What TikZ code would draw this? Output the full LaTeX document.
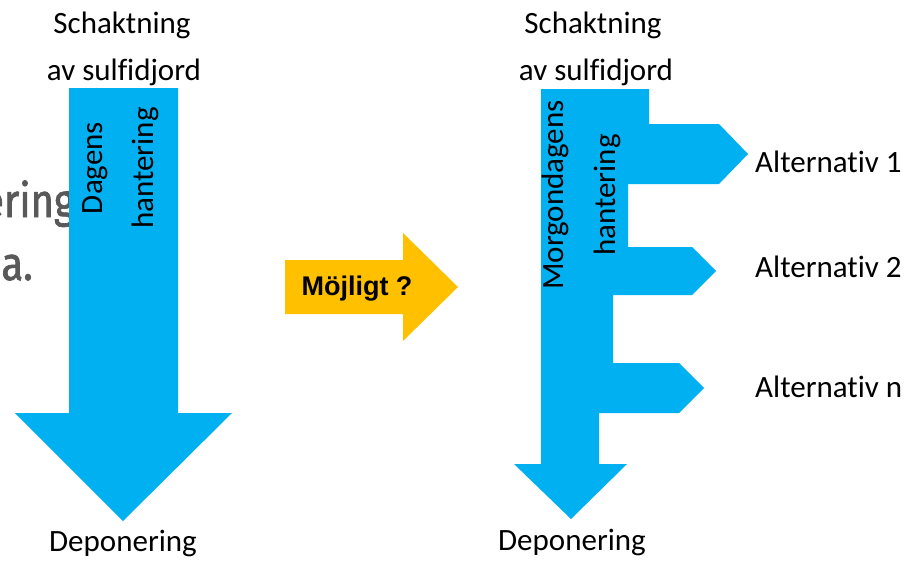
\documentclass[tikz,border=0pt]{standalone}
\usepackage{fontspec}
\setmainfont{Carlito}[Ligatures=NoCommon]
\newfontfamily\boldarial{Liberation Sans}
\newfontfamily\titlefont[FakeStretch=0.85,FakeBold=1.5]{Fira Sans}
\definecolor{arrowblue}{HTML}{00B0F0}
\definecolor{arrowgold}{HTML}{FFC000}
\definecolor{titlegrey}{HTML}{595959}
\tikzset{
  lbl/.style={inner sep=0pt, font=\fontsize{31}{37}\selectfont},
  vlbl/.style={lbl, rotate=90},
  bluearrow/.style={fill=arrowblue, draw=none},
  goldarrow/.style={fill=arrowgold, draw=none},
  bgtitle/.style={inner sep=0pt, text=titlegrey, font=\titlefont\fontsize{47}{50}\selectfont}
}
\begin{document}
\begin{tikzpicture}[x=1pt,y=-1pt]
\useasboundingbox (0,0) rectangle (910,560);
\clip (0,0) rectangle (910,560);
% background title fragments
\node[bgtitle, anchor=base east] (t1) at (75,217) {ering};
\node[bgtitle, anchor=base east] (t2) at (33,280) {a.};
% left arrow
\fill[bluearrow] (69,88) -- (178,88) -- (178,413) -- (232,413) -- (123,521) -- (15,413) -- (69,413) -- cycle;
% right branched arrow
\fill[bluearrow] (541,89) -- (649,89) -- (649,124) -- (719,124) -- (748,154) -- (719,184) -- (628,184) -- (628,247) -- (692,247) -- (716,271) -- (692,295) -- (613,295) -- (613,363) -- (679,363) -- (704,388) -- (679,413) -- (599,413) -- (599,464) -- (627,464) -- (571,519) -- (514,464) -- (541,464) -- cycle;
% middle arrow
\fill[goldarrow] (285,260) -- (403,260) -- (403,233) -- (458,287) -- (403,341) -- (403,314) -- (285,314) -- cycle;
\node[inner sep=0pt, anchor=base, font=\boldarial\bfseries\fontsize{27}{30}\selectfont] (mojligt) at (357,295) {Möjligt ?};
% left labels
\node[lbl, anchor=base] (ls1) at (122,33) {Schaktning};
\node[lbl, anchor=base] (ls2) at (124,80) {av sulfidjord};
\node[lbl, anchor=base] (ldep) at (123,551) {Deponering};
\node[vlbl] (ldag) at (95,168) {Dagens};
\node[vlbl] (lhan) at (145,168) {hantering};
% right labels
\node[lbl, anchor=base] (rs1) at (593,33) {Schaktning};
\node[lbl, anchor=base] (rs2) at (596,80) {av sulfidjord};
\node[lbl, anchor=base] (rdep) at (572,550) {Deponering};
\node[vlbl] (rmor) at (555,195) {Morgondagens};
\node[vlbl] (rhan) at (607,195) {hantering};
\node[lbl, anchor=base west] (alt1) at (755,172) {Alternativ 1};
\node[lbl, anchor=base west] (alt2) at (755,277) {Alternativ 2};
\node[lbl, anchor=base west] (altn) at (755,397) {Alternativ n};
\end{tikzpicture}
\end{document}
